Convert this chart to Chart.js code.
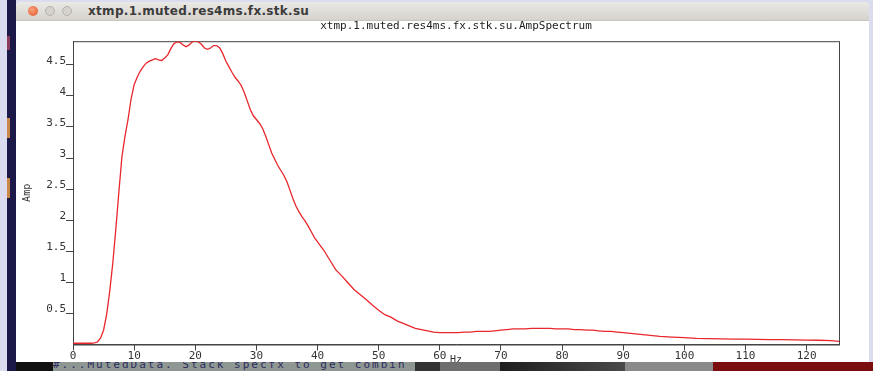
<!DOCTYPE html>
<html lang="en">
<head>
    <meta charset="UTF-8">
    <title>xtmp.1.muted.res4ms.fx.stk.su.AmpSpectrum</title>
    <script src="https://cdn.jsdelivr.net/npm/chart.js"></script>
    <style>
        body {
            margin: 0;
            width: 873px;
            height: 371px;
            overflow: hidden;
            position: relative;
            background: #dcdcf0;
            font-family: "DejaVu Sans", sans-serif;
        }
        .strip { position: absolute; left: 7px; top: 0; width: 9px; height: 371px; background: #1c1848; }
        .speck { position: absolute; left: 7px; width: 3px; background: #c9874a; }
        .window {
            position: absolute; left: 16px; top: 2px; width: 853px; height: 362px;
            background: #fff; border-radius: 5px 5px 0 0; overflow: hidden;
        }
        .titlebar {
            height: 18px;
            background: linear-gradient(#ebe9e5, #d6d3cd);
            border-bottom: 1px solid #c8c5bf;
            position: relative;
        }
        .btn { position: absolute; top: 4px; width: 10px; height: 10px; border-radius: 50%; }
        .close { left: 12px; background: radial-gradient(circle at 40% 35%, #f7a07a, #e0552c); }
        .min { left: 29px; background: #d5d2cc; border: 1px solid #b5b2ac; width: 8px; height: 8px; }
        .max { left: 46px; background: #d5d2cc; border: 1px solid #b5b2ac; width: 8px; height: 8px; }
        .wtitle {
            position: absolute; left: 72px; top: 2px;
            font-weight: bold; font-size: 12px; color: #3c3c3c; letter-spacing: 0.3px;
        }
        #chartBox { position: absolute; left: 0; top: 0; width: 873px; height: 371px; z-index: 2; }
        .bottom { position: absolute; left: 16px; top: 362px; width: 857px; height: 9px; z-index: 3; overflow: hidden; }
        .bottom div { position: absolute; top: 0; height: 9px; }
        .term {
            font-family: "DejaVu Sans Mono", monospace; font-size: 11px; line-height: 11px;
            letter-spacing: 2px; color: #2b2b60; white-space: nowrap; overflow: hidden;
        }
    </style>
</head>
<body>
    <div class="strip"></div>
    <div class="speck" style="top:118px;height:20px"></div>
    <div class="speck" style="top:178px;height:20px"></div>
    <div class="speck" style="top:36px;height:14px;background:#8a3a5a"></div>
    <div class="window">
        <div class="titlebar">
            <div class="btn close"></div>
            <div class="btn min"></div>
            <div class="btn max"></div>
            <div class="wtitle">xtmp.1.muted.res4ms.fx.stk.su</div>
        </div>
    </div>
    <div id="chartBox"><canvas id="ampChart" width="873" height="371"></canvas></div>
    <div class="bottom">
        <div style="left:0;width:37px;background:#111"></div>
        <div class="term" style="left:37px;width:362px;background:#8f9792"><span style="position:relative;top:-3px">#...MutedData. Stack specfx to get combin</span></div>
        <div style="left:399px;width:25px;background:#333"></div>
        <div style="left:424px;width:60px;background:#6e6e6e"></div>
        <div style="left:484px;width:125px;background:linear-gradient(90deg,#1e1e1e,#4a4a4a)"></div>
        <div style="left:609px;width:88px;background:#8a8a8a"></div>
        <div style="left:697px;width:160px;background:#7a0d0d"></div>
    </div>

    <script>
        // frequency (Hz) and amplitude
        const freqs = [0, 1, 2, 3, 3.5, 4, 4.5, 5, 5.5, 6, 6.5, 7, 7.5, 8, 8.5, 9, 9.5, 10,
            10.5, 11, 11.5, 12, 12.5, 13, 13.5, 14, 14.5, 15, 15.5, 16, 16.5, 17, 17.5, 18,
            18.5, 19, 19.5, 20, 20.5, 21, 21.5, 22, 22.5, 23, 23.5, 24, 24.5, 25, 25.5, 26,
            26.5, 27, 27.5, 28, 28.5, 29, 29.5, 30, 30.5, 31, 31.5, 32, 32.5, 33, 33.5, 34,
            34.5, 35, 35.5, 36, 36.5, 37, 37.5, 38, 38.5, 39, 39.5, 40, 41, 42, 43, 44, 45,
            46, 47, 48, 49, 50, 51, 52, 53, 54, 55, 56, 57, 58, 59, 60, 61, 62, 63, 64, 65,
            66, 67, 68, 69, 70, 71, 72, 73, 74, 75, 76, 77, 78, 79, 80, 81, 82, 83, 84, 85,
            86, 87, 88, 89, 90, 92, 94, 96, 98, 100, 102, 104, 106, 108, 110, 112, 114, 116,
            118, 120, 122, 124, 125.3];
        const amps = [0.02, 0.02, 0.02, 0.02, 0.025, 0.04, 0.1, 0.23, 0.48, 0.85, 1.3, 1.85, 2.45, 3.02, 3.35, 3.62, 3.95, 4.18,
            4.3, 4.4, 4.47, 4.53, 4.56, 4.58, 4.6, 4.58, 4.57, 4.61, 4.66, 4.76, 4.84, 4.87, 4.86, 4.82,
            4.79, 4.82, 4.87, 4.88, 4.87, 4.83, 4.77, 4.75, 4.77, 4.81, 4.81, 4.77, 4.68, 4.56, 4.47, 4.38,
            4.3, 4.24, 4.17, 4.06, 3.92, 3.78, 3.68, 3.62, 3.56, 3.48, 3.36, 3.22, 3.08, 2.98, 2.88, 2.8,
            2.72, 2.62, 2.48, 2.34, 2.22, 2.13, 2.05, 1.98, 1.9, 1.81, 1.72, 1.65, 1.52, 1.36, 1.2, 1.1, 0.99,
            0.88, 0.8, 0.72, 0.63, 0.55, 0.48, 0.44, 0.38, 0.34, 0.3, 0.26, 0.24, 0.22, 0.2, 0.19, 0.19, 0.19, 0.19, 0.2, 0.2,
            0.21, 0.21, 0.21, 0.22, 0.23, 0.24, 0.25, 0.25, 0.25, 0.26, 0.26, 0.26, 0.26, 0.25, 0.25, 0.25, 0.24, 0.24, 0.23, 0.23,
            0.22, 0.21, 0.21, 0.2, 0.19, 0.17, 0.15, 0.13, 0.12, 0.11, 0.1, 0.095, 0.09, 0.088, 0.085, 0.083, 0.08, 0.078,
            0.075, 0.072, 0.068, 0.062, 0.05];
        const xTickValues = [0, 10, 20, 30, 40, 50, 60, 70, 80, 90, 100, 110, 120];
        const yTickValues = [0.5, 1, 1.5, 2, 2.5, 3, 3.5, 4, 4.5];

        const points = freqs.map((f, i) => ({ x: f, y: amps[i] }));
        const tickFont = { family: 'DejaVu Sans Mono', size: 11 };

        // box around the plot area
        const frame = {
            id: 'frame',
            beforeDatasetsDraw(chart) {
                const a = chart.chartArea, ctx = chart.ctx;
                ctx.save();
                ctx.strokeStyle = '#444';
                ctx.lineWidth = 1;
                ctx.strokeRect(a.left + 0.5, a.top + 0.5, a.right - a.left, a.bottom - a.top);
                ctx.restore();
            }
        };

        new Chart(document.getElementById('ampChart'), {
            type: 'line',
            data: {
                datasets: [{
                    data: points,
                    borderColor: '#e8262c',
                    borderWidth: 1.3,
                    pointRadius: 0,
                    tension: 0
                }]
            },
            options: {
                responsive: false,
                animation: false,
                layout: { padding: { left: 0, top: 0, right: 34, bottom: 0 } },
                plugins: {
                    legend: { display: false },
                    tooltip: { enabled: false },
                    title: {
                        display: true,
                        fullSize: false,
                        text: 'xtmp.1.muted.res4ms.fx.stk.su.AmpSpectrum',
                        color: '#222',
                        font: { family: 'DejaVu Sans Mono', size: 11, weight: 'normal' },
                        padding: { top: 20, bottom: 8 }
                    }
                },
                scales: {
                    x: {
                        type: 'linear',
                        min: 0,
                        max: 125.3,
                        afterFit: s => { s.height = 26.5; },
                        afterBuildTicks: s => { s.ticks = xTickValues.map(v => ({ value: v })); },
                        ticks: { color: '#333', font: tickFont, padding: -1, maxRotation: 0, autoSkip: false },
                        grid: { drawOnChartArea: false, drawTicks: true, tickLength: 6, color: '#444' },
                        border: { display: true, color: '#444' },
                        title: {
                            display: true, text: 'Hz', color: '#333',
                            font: { family: 'DejaVu Sans Mono', size: 10 },
                            padding: { top: 0, bottom: 5 }
                        }
                    },
                    y: {
                        min: 0,
                        max: 4.88,
                        afterFit: s => { s.width = 73; },
                        afterBuildTicks: s => { s.ticks = yTickValues.map(v => ({ value: v })); },
                        ticks: {
                            color: '#333', font: tickFont, padding: 0, labelOffset: -4, autoSkip: false,
                            callback: v => String(v)
                        },
                        grid: { drawOnChartArea: false, drawTicks: true, tickLength: 7, color: '#444' },
                        border: { display: true, color: '#444' },
                        title: {
                            display: true, text: 'Amp', color: '#333',
                            font: { family: 'DejaVu Sans Mono', size: 10 },
                            padding: { top: 21, bottom: 0 }
                        }
                    }
                }
            },
            plugins: [frame]
        });
    </script>
</body>
</html>
